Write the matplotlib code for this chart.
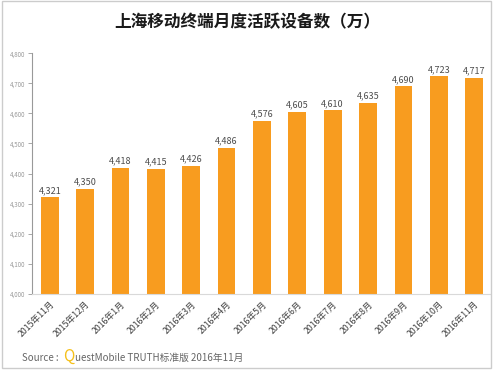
import matplotlib
matplotlib.use('Agg')
import matplotlib.pyplot as plt
from matplotlib.patches import Rectangle

plt.rcParams['font.family'] = ['Noto Sans CJK SC', 'DejaVu Sans']

months = ['2015年11月', '2015年12月', '2016年1月', '2016年2月', '2016年3月', '2016年4月',
          '2016年5月', '2016年6月', '2016年7月', '2016年8月', '2016年9月', '2016年10月',
          '2016年11月']
devices = [4321, 4350, 4418, 4415, 4426, 4486, 4576, 4605, 4610, 4635, 4690, 4723, 4717]
yticks = [4000, 4100, 4200, 4300, 4400, 4500, 4600, 4700, 4800]

fig = plt.figure(figsize=(4.94, 3.72), dpi=100)
ax = fig.add_axes([0.065, 0.21, 0.927, 0.647])

x = range(len(months))
ax.bar(x, devices, width=0.5, color='#f89c1f')
for i, v in zip(x, devices):
    ax.text(i, v + 8, f'{v:,}', ha='center', va='bottom', fontsize=6.5, color='#4d4d4d')

ax.set_ylim(4000, 4800)
ax.set_xlim(-0.5, 12.45)
ax.set_yticks(yticks)
ax.set_yticklabels([f'{t:,}' for t in yticks], fontsize=4.5, color='#999999')
ax.set_xticks(list(x))
ax.set_xticklabels(months, rotation=45, ha='right', rotation_mode='anchor',
                   fontsize=6.3, color='#404040')
ax.tick_params(axis='y', length=3, width=0.6, color='#999999', pad=2)
ax.tick_params(axis='x', length=0, pad=4)
for s in ['top', 'right']:
    ax.spines[s].set_visible(False)
ax.spines['left'].set_color('#999999')
ax.spines['left'].set_linewidth(0.8)
ax.spines['bottom'].set_color('#d9d9d9')
ax.spines['bottom'].set_linewidth(0.8)

fig.text(0.5, 0.94, '上海移动终端月度活跃设备数（万）', ha='center', va='center',
         fontsize=12, fontweight='bold', color='#1a1a1a')

fig.text(0.045, 0.03, 'Source :', ha='left', va='baseline', fontsize=7, color='#666666')
fig.text(0.127, 0.03, 'Q', ha='left', va='baseline', fontsize=11, color='#f5c01a')
fig.text(0.151, 0.03, 'uestMobile TRUTH标准版 2016年11月', ha='left', va='baseline',
         fontsize=7, color='#666666')

fig.patches.append(Rectangle((0.004, 0.012), 0.99, 0.985, transform=fig.transFigure,
                             fill=False, edgecolor='#cccccc', linewidth=1))

fig.savefig('out.png', dpi=100)
